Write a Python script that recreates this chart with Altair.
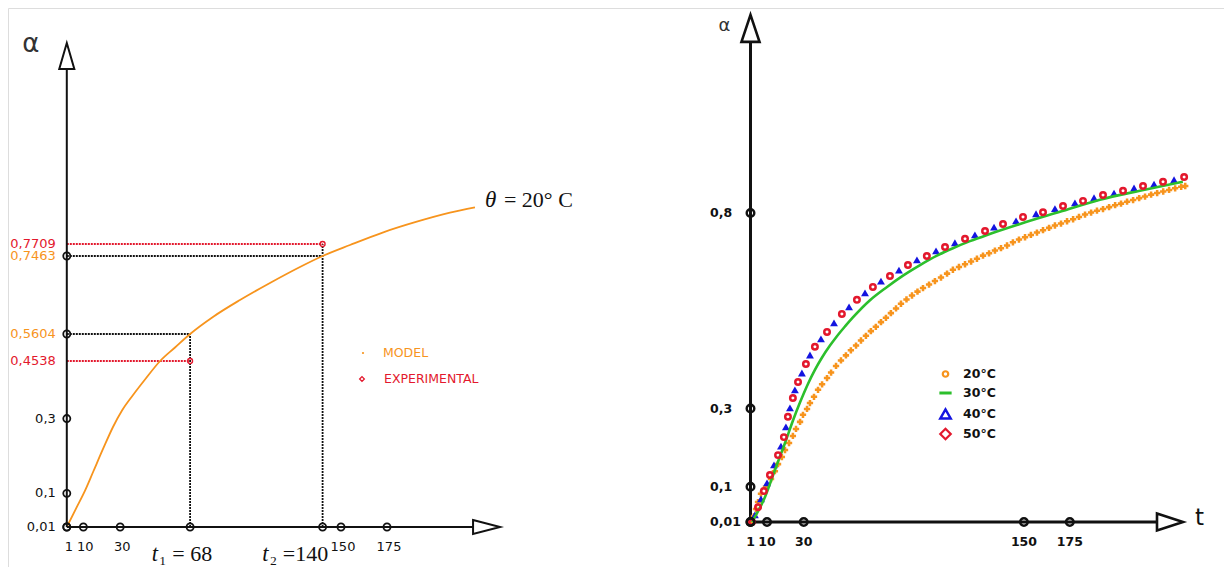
import altair as alt
import pandas as pd

# ---------------- left panel: theta = 20 C, model vs experimental ----------------
model_t = [1, 6.0, 10.9, 15.4, 20.8, 26.1, 31.0, 37.0, 43.5, 51.7, 59.8, 68, 80.6, 95.1,
           111.4, 127.7, 140, 154.9, 173.0, 191.2, 209.2, 222.8]
model_a = [0.01, 0.0592, 0.1073, 0.1584, 0.2199, 0.2774, 0.3215, 0.3629, 0.4043, 0.4538, 0.5071,
           0.5604, 0.6016, 0.6414, 0.682, 0.7201, 0.7463, 0.7689, 0.7949, 0.8166, 0.8351, 0.8461]
read_t = [68, 140]
read_model = [0.5604, 0.7463]
read_exp = [0.4538, 0.7709]
left_x_ticks = [1, 10, 30, 68, 140, 150, 175]
left_x_label_t = [1, 10, 30, 150, 175]
left_x_labels = ["1", "10", "30", "150", "175"]
left_y_ticks = [0.01, 0.1, 0.3, 0.5604, 0.7463]
left_y_plain = [0.01, 0.1, 0.3]
left_y_plain_text = ["0,01", "0,1", "0,3"]
left_y_model_text = ["0,5604", "0,7463"]
left_y_exp_text = ["0,4538", "0,7709"]
t_label_sub = ["\u2081 = 68", "\u2082 =140"]
left_legend = ["MODEL", "EXPERIMENTAL"]
left_axis_end_t, left_arrow_t = 221.8, 229.1
left_axis_end_a, left_arrow_a = 1.1297, 1.1563

# ---------------- right panel: four temperatures ----------------
s20_t = [1.8, 2.9, 4.0, 5.1, 6.7, 9.4, 12.2, 14.3, 16.0, 18.1,
         19.8, 22.0, 24.1, 25.8, 28.0, 29.6, 31.8, 33.4, 35.6, 37.8,
         40.0, 42.7, 44.9, 47.6, 50.3, 53.0, 55.7, 58.5, 61.2, 63.9,
         66.6, 69.3, 72.1, 74.8, 77.5, 80.3, 83.0, 86.0, 89.0, 92.0,
         95.0, 98.3, 101.5, 104.8, 108.1, 111.3, 114.6, 117.9, 121.2, 124.4,
         127.7, 131.0, 134.2, 137.5, 140.8, 144.0, 147.3, 150.6, 153.8, 157.1,
         160.4, 163.7, 166.9, 170.2, 173.5, 176.8, 180.0, 183.3, 186.6, 189.8,
         193.1, 196.4, 199.7, 202.9, 206.2, 209.5, 212.8, 216.0, 219.3, 222.6,
         225.9, 229.1, 232.4, 235.7, 237.9]
s20_a = [0.010, 0.025, 0.043, 0.061, 0.082, 0.100, 0.120, 0.140, 0.158, 0.176,
         0.194, 0.212, 0.230, 0.248, 0.266, 0.284, 0.299, 0.314, 0.330, 0.348,
         0.362, 0.378, 0.392, 0.409, 0.423, 0.436, 0.449, 0.461, 0.474, 0.486,
         0.498, 0.509, 0.521, 0.532, 0.544, 0.556, 0.568, 0.579, 0.589, 0.599,
         0.608, 0.617, 0.626, 0.635, 0.645, 0.655, 0.662, 0.669, 0.676, 0.683,
         0.691, 0.697, 0.704, 0.710, 0.717, 0.725, 0.732, 0.738, 0.744, 0.750,
         0.756, 0.762, 0.768, 0.773, 0.779, 0.784, 0.790, 0.796, 0.801, 0.806,
         0.810, 0.815, 0.820, 0.824, 0.829, 0.833, 0.838, 0.842, 0.847, 0.851,
         0.855, 0.859, 0.863, 0.867, 0.869]
s30_t = [1.8, 8.9, 14.3, 19.8, 24.1, 28.0, 32.3, 36.1, 39.9, 44.3, 48.1, 52.5, 56.8,
         66.1, 75.4, 84.1, 93.4, 102.6, 111.3, 120.6, 129.9, 147.9, 169.6, 191.4, 213.2, 236.6]
s30_a = [0.010, 0.074, 0.143, 0.212, 0.269, 0.316, 0.363, 0.399, 0.430, 0.461, 0.485, 0.510, 0.533,
         0.577, 0.611, 0.640, 0.667, 0.691, 0.710, 0.728, 0.744, 0.772, 0.803, 0.834, 0.857, 0.880]
s40_t = [3.4, 6.7, 10.0, 13.8, 17.6, 20.3, 22.5, 25.2, 29.0, 33.4, 39.4, 46.5, 54.7, 63.4, 72.1,
         81.9, 91.7, 102.1, 112.4, 123.3, 133.7, 145.7, 156.6, 166.9, 177.8, 188.2, 199.1, 210.0,
         220.9, 231.8]
s40_a = [0.028, 0.069, 0.110, 0.156, 0.204, 0.253, 0.302, 0.348, 0.391, 0.437, 0.478, 0.519, 0.560,
         0.596, 0.626, 0.654, 0.680, 0.703, 0.724, 0.744, 0.764, 0.780, 0.798, 0.811, 0.826, 0.839,
         0.851, 0.864, 0.874, 0.885]
s50_t = [1.8, 5.1, 8.3, 11.6, 16.0, 19.2, 21.4, 24.1, 26.9, 31.2, 36.1, 42.7, 50.8, 59.0, 67.7,
         77.0, 86.8, 97.1, 107.0, 117.9, 128.8, 138.6, 149.5, 160.4, 171.3, 182.2, 193.1, 204.0,
         214.9, 225.8, 237.3]
s50_a = [0.010, 0.048, 0.089, 0.130, 0.181, 0.227, 0.279, 0.327, 0.368, 0.414, 0.458, 0.496, 0.542,
         0.578, 0.611, 0.639, 0.667, 0.690, 0.713, 0.734, 0.754, 0.772, 0.790, 0.802, 0.818, 0.831,
         0.846, 0.857, 0.869, 0.880, 0.892]
right_x_ticks = [1, 10, 30, 150, 175]
right_x_labels = ["1", "10", "30", "150", "175"]
right_y_ticks = [0.01, 0.1, 0.3, 0.8]
right_y_labels = ["0,01", "0,1", "0,3", "0,8"]
right_legend = ["20\u00b0C", "30\u00b0C", "40\u00b0C", "50\u00b0C"]
right_axis_end_t, right_arrow_t = 222.5, 229.6
right_axis_end_a, right_arrow_a = 1.2376, 1.272

ORANGE = "#f7941d"
RED = "#e3182d"
BLUE = "#1414e0"
GREEN = "#2cbf2c"
BLACK = "#111111"
SANS = "DejaVu Sans"
SERIF = "Liberation Serif"

# ---------------- scales ----------------
xL = alt.Scale(domain=[1, 175], range=[58.8, 379.0], nice=False, zero=False)
yL = alt.Scale(domain=[0.01, 0.4538, 0.5604, 0.7463, 0.7709],
               range=[519, 353, 326, 248, 236], nice=False, zero=False)
xR = alt.Scale(domain=[1, 175], range=[742.5, 1061.8], nice=False, zero=False)
yR = alt.Scale(domain=[0.01, 0.8], range=[514, 205], nice=False, zero=False)


def XL(f="t"):
    return alt.X(f"{f}:Q", scale=xL, axis=None)


def YL(f="a"):
    return alt.Y(f"{f}:Q", scale=yL, axis=None)


def XR(f="t"):
    return alt.X(f"{f}:Q", scale=xR, axis=None)


def YR(f="a"):
    return alt.Y(f"{f}:Q", scale=yR, axis=None)


def df(**kw):
    return pd.DataFrame(kw)


# ================= LEFT =================
L = []
guide_black = df(
    t=[1, 1, read_t[0], read_t[1]],
    t2=[read_t[0], read_t[1], read_t[0], read_t[1]],
    a=[read_model[0], read_model[1], 0.01, 0.01],
    a2=[read_model[0], read_model[1], max(read_model[0], read_exp[0]), max(read_model[1], read_exp[1])],
)
L.append(alt.Chart(guide_black).mark_rule(color=BLACK, strokeWidth=1.8, strokeDash=[2, 1])
         .encode(x=XL(), x2="t2:Q", y=YL(), y2="a2:Q"))
guide_red = df(t=[1, 1], t2=read_t, a=read_exp, a2=read_exp)
L.append(alt.Chart(guide_red).mark_rule(color=RED, strokeWidth=1.8, strokeDash=[2, 1])
         .encode(x=XL(), x2="t2:Q", y=YL(), y2="a2:Q"))
L.append(alt.Chart(pd.DataFrame({"t": model_t, "a": model_a}))
         .mark_line(color=ORANGE, strokeWidth=1.8, interpolate="monotone")
         .encode(x=XL(), y=YL()))
axisL = df(t=[1, 1], t2=[left_axis_end_t, 1], a=[0.01, 0.01], a2=[0.01, left_axis_end_a])
L.append(alt.Chart(axisL).mark_rule(color=BLACK, strokeWidth=2)
         .encode(x=XL(), x2="t2:Q", y=YL(), y2="a2:Q"))
ticksL = pd.concat([df(t=left_x_ticks, a=[0.01] * len(left_x_ticks)),
                    df(t=[1] * len(left_y_ticks), a=left_y_ticks)])
L.append(alt.Chart(ticksL).mark_point(shape="circle", filled=False, color=BLACK, size=50,
                                      strokeWidth=1.8, opacity=1)
         .encode(x=XL(), y=YL()))
L.append(alt.Chart(df(t=read_t, a=read_exp)).mark_point(shape="circle", filled=False, color=RED,
                                                        size=24, strokeWidth=1.4, opacity=1)
         .encode(x=XL(), y=YL()))
L.append(alt.Chart(df(t=[left_arrow_t], a=[0.01]))
         .mark_point(shape="M-1,-0.52L1,0L-1,0.52Z", filled=True, fill="white", stroke=BLACK,
                     strokeWidth=2, size=729, opacity=1)
         .encode(x=XL(), y=YL()))
L.append(alt.Chart(df(t=[1], a=[left_arrow_a]))
         .mark_point(shape="M0,-1L0.58,1L-0.58,1Z", filled=True, fill="white", stroke=BLACK,
                     strokeWidth=2, size=676, opacity=1)
         .encode(x=XL(), y=YL()))
L.append(alt.Chart(df(t=[1], a=[left_arrow_a], label=["\u03b1"]))
         .mark_text(font=SANS, fontSize=26, color="#333", dx=-36, dy=-12, baseline="middle")
         .encode(x=XL(), y=YL(), text="label:N"))
for vals, texts, col in [(left_y_plain, left_y_plain_text, BLACK),
                         (read_model, left_y_model_text, ORANGE),
                         (read_exp, left_y_exp_text, RED)]:
    L.append(alt.Chart(df(t=[1] * len(vals), a=vals, label=texts))
             .mark_text(align="right", baseline="middle", dx=-11, font=SANS, fontSize=13, color=col)
             .encode(x=XL(), y=YL(), text="label:N"))
L.append(alt.Chart(df(t=left_x_label_t, a=[0.01] * len(left_x_label_t), label=left_x_labels))
         .mark_text(align="center", baseline="middle", dx=2, dy=20, font=SANS, fontSize=13, color=BLACK)
         .encode(x=XL(), y=YL(), text="label:N"))
for i, off in enumerate([-32, -54]):
    row = df(t=[read_t[i]], a=[0.01], lt=["t"], ls=[t_label_sub[i]])
    L.append(alt.Chart(row).mark_text(align="right", baseline="alphabetic", dx=off, dy=34,
                                      font=SERIF, fontSize=22.5, fontStyle="italic", color=BLACK)
             .encode(x=XL(), y=YL(), text="lt:N"))
    L.append(alt.Chart(row).mark_text(align="left", baseline="alphabetic", dx=off + 1, dy=34,
                                      font=SERIF, fontSize=22, color=BLACK)
             .encode(x=XL(), y=YL(), text="ls:N"))
endpt = df(t=[model_t[-1]], a=[model_a[-1]], l1=["\u03b8"], l2=["= 20\u00b0 C"])
L.append(alt.Chart(endpt).mark_text(align="left", baseline="middle", dx=10, dy=-7,
                                    font=SERIF, fontSize=23, fontStyle="italic", color=BLACK)
         .encode(x=XL(), y=YL(), text="l1:N"))
L.append(alt.Chart(endpt).mark_text(align="left", baseline="middle", dx=29, dy=-7,
                                    font=SERIF, fontSize=22, color=BLACK)
         .encode(x=XL(), y=YL(), text="l2:N"))
# left legend
lg = df(label=[left_legend[0]])
L.append(alt.Chart(lg).mark_point(shape="circle", filled=True, color=ORANGE, size=5, opacity=1)
         .encode(x=alt.value(355), y=alt.value(345)))
L.append(alt.Chart(lg).mark_text(align="left", baseline="middle", font=SANS, fontSize=12.5,
                                 fontWeight=500, color=ORANGE)
         .encode(x=alt.value(375), y=alt.value(345), text="label:N"))
lg2 = df(label=[left_legend[1]])
L.append(alt.Chart(lg2).mark_point(shape="diamond", filled=False, color=RED, size=22,
                                   strokeWidth=1.3, opacity=1)
         .encode(x=alt.value(354), y=alt.value(371)))
L.append(alt.Chart(lg2).mark_text(align="left", baseline="middle", font=SANS, fontSize=12.5,
                                  fontWeight=500, color=RED)
         .encode(x=alt.value(376), y=alt.value(371), text="label:N"))

# ================= RIGHT =================
R = []
axisR = df(t=[1, 1], t2=[right_axis_end_t, 1], a=[0.01, 0.01], a2=[0.01, right_axis_end_a])
R.append(alt.Chart(axisR).mark_rule(color=BLACK, strokeWidth=3)
         .encode(x=XR(), x2="t2:Q", y=YR(), y2="a2:Q"))
R.append(alt.Chart(pd.DataFrame({"t": s20_t, "a": s20_a}))
         .mark_point(shape="cross", filled=True, color=ORANGE, size=40, opacity=1)
         .encode(x=XR(), y=YR()))
R.append(alt.Chart(pd.DataFrame({"t": s40_t, "a": s40_a}))
         .mark_point(shape="triangle-up", filled=True, color=BLUE, size=62, opacity=1)
         .encode(x=XR(), y=YR()))
R.append(alt.Chart(pd.DataFrame({"t": s30_t, "a": s30_a}))
         .mark_line(color=GREEN, strokeWidth=2.6, interpolate="monotone")
         .encode(x=XR(), y=YR()))
R.append(alt.Chart(pd.DataFrame({"t": s50_t, "a": s50_a}))
         .mark_point(shape="circle", filled=False, color=RED, size=30, strokeWidth=2.5, opacity=1)
         .encode(x=XR(), y=YR()))
ticksR = pd.concat([df(t=right_x_ticks, a=[0.01] * len(right_x_ticks)),
                    df(t=[1] * len(right_y_ticks), a=right_y_ticks)])
R.append(alt.Chart(ticksR).mark_point(shape="circle", filled=False, color=BLACK, size=58,
                                      strokeWidth=2.4, opacity=1)
         .encode(x=XR(), y=YR()))
R.append(alt.Chart(df(t=[right_arrow_t], a=[0.01], label=["t"]))
         .mark_point(shape="M-1,-0.65L1,0L-1,0.65Z", filled=True, fill="white", stroke=BLACK,
                     strokeWidth=2.6, size=676, opacity=1)
         .encode(x=XR(), y=YR()))
R.append(alt.Chart(df(t=[right_arrow_t], a=[0.01], label=["t"]))
         .mark_text(align="left", baseline="middle", dx=25, dy=-4, font=SANS, fontSize=23, color=BLACK)
         .encode(x=XR(), y=YR(), text="label:N"))
R.append(alt.Chart(df(t=[1], a=[right_arrow_a]))
         .mark_point(shape="M0,-1L0.67,1L-0.67,1Z", filled=True, fill="white", stroke=BLACK,
                     strokeWidth=2.6, size=729, opacity=1)
         .encode(x=XR(), y=YR()))
R.append(alt.Chart(df(t=[1], a=[right_arrow_a], label=["\u03b1"]))
         .mark_text(baseline="middle", dx=-26, dy=-2, font=SANS, fontSize=18, color="#333")
         .encode(x=XR(), y=YR(), text="label:N"))
R.append(alt.Chart(df(t=[1] * len(right_y_ticks), a=right_y_ticks, label=right_y_labels))
         .mark_text(align="left", baseline="middle", dx=-40.5, font=SANS, fontSize=12.5,
                    fontWeight="bold", color=BLACK)
         .encode(x=XR(), y=YR(), text="label:N"))
R.append(alt.Chart(df(t=right_x_ticks, a=[0.01] * len(right_x_ticks), label=right_x_labels))
         .mark_text(align="center", baseline="middle", dy=20, font=SANS, fontSize=12.5,
                    fontWeight="bold", color=BLACK)
         .encode(x=XR(), y=YR(), text="label:N"))
# right legend
leg_y = [366, 385, 406, 426]
sym = [
    dict(shape="circle", filled=False, color=ORANGE, size=30, strokeWidth=2.2),
    dict(shape="stroke", filled=False, color=GREEN, size=150, strokeWidth=3),
    dict(shape="triangle-up", filled=False, color=BLUE, size=110, strokeWidth=2.4),
    dict(shape="diamond", filled=False, color=RED, size=110, strokeWidth=2.2),
]
for lab, yy, s in zip(right_legend, leg_y, sym):
    one = df(label=[lab])
    R.append(alt.Chart(one).mark_point(opacity=1, **s)
             .encode(x=alt.value(937.5), y=alt.value(yy)))
    R.append(alt.Chart(one).mark_text(align="left", baseline="middle", font=SANS, fontSize=12.5,
                                      fontWeight="bold", color=BLACK)
             .encode(x=alt.value(955), y=alt.value(yy), text="label:N"))

left = alt.layer(*L)
right = alt.layer(*R)
chart = (alt.layer(left, right)
         .resolve_scale(x="independent", y="independent")
         .properties(width=1216, height=566, padding=0,
                     autosize=alt.AutoSizeParams(type="none"))
         .configure_view(stroke=None)
         .configure(background="white"))
chart.save("out.html", embed_options={"renderer": "svg", "actions": False})
